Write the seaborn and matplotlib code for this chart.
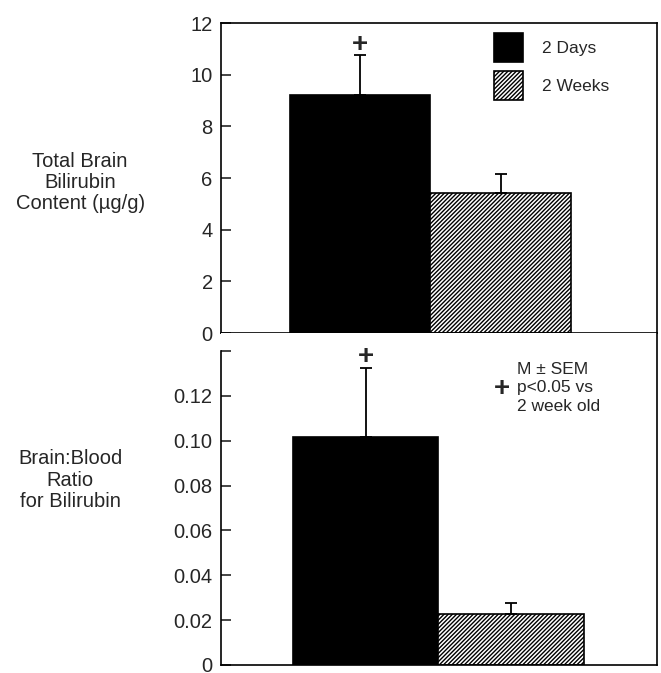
import matplotlib
matplotlib.use("Agg")
import matplotlib.pyplot as plt
import seaborn as sns

# Data
groups = ['2 Days', '2 Weeks']
content_mean = [9.23, 5.42]
content_sem = [1.54, 0.73]
ratio_mean = [0.1018, 0.0228]
ratio_sem = [0.0308, 0.0049]

content_ticks = [0, 2, 4, 6, 8, 10, 12]
ratio_ticks = [0, 0.02, 0.04, 0.06, 0.08, 0.10, 0.12, 0.14]
ratio_ticklabels = ['0', '0.02', '0.04', '0.06', '0.08', '0.10', '0.12', '']

sns.set_theme(style='white')
plt.rcParams['font.family'] = ['Liberation Sans', 'DejaVu Sans']
plt.rcParams['hatch.linewidth'] = 1.0
plt.rcParams['hatch.color'] = 'black'

fig = plt.figure(figsize=(6.61, 6.73), dpi=100)
ax1 = fig.add_axes([0.3343, 0.5052, 0.6596, 0.4606])
ax2 = fig.add_axes([0.3343, 0.0119, 0.6596, 0.4933])


def draw_bars(ax, means, sems):
    sns.barplot(x=groups, y=means, hue=groups, palette=['black', 'white'],
                width=1, legend=False, ax=ax, edgecolor='black', linewidth=1.2)
    ax.patches[1].set_hatch('////////')
    ax.errorbar([0, 1], means, yerr=[[0, 0], sems], fmt='none',
                ecolor='black', elinewidth=1.3, capsize=4, capthick=1.3)
    ax.set_xticks([])
    ax.set_xlabel('')
    ax.tick_params(axis='y', direction='in', length=7, width=1.2,
                   labelsize=14.5, left=True, pad=6)
    for s in ax.spines.values():
        s.set_linewidth(1.2)
        s.set_color('black')


# top panel: total brain bilirubin content
draw_bars(ax1, content_mean, content_sem)
ax1.set_ylim(0, 12)
ax1.set_xlim(-0.991, 2.112)
ax1.set_yticks(content_ticks)
ax1.set_yticklabels([str(t) for t in content_ticks])
ax1.text(0, content_mean[0] + content_sem[0] + 0.38, '+', ha='center', va='center',
         fontsize=20, fontweight='bold')
ax1.legend(handles=ax1.patches[:2], labels=groups, loc='upper left',
           bbox_to_anchor=(0.61, 0.99), frameon=False, fontsize=12.5,
           handlelength=1.65, handleheight=2.2, labelspacing=0.5,
           handletextpad=1.1, borderaxespad=0)
ax1.set_ylabel('Total Brain\nBilirubin\nContent (µg/g)', rotation=0,
               fontsize=14.5, ha='center', va='center', labelpad=0,
               linespacing=1.15)
ax1.yaxis.set_label_coords(-0.323, 0.485)

# bottom panel: brain:blood ratio
draw_bars(ax2, ratio_mean, ratio_sem)
ax2.set_ylim(0, 0.148)
ax2.set_xlim(-0.995, 2.002)
ax2.set_yticks(ratio_ticks)
ax2.set_yticklabels(ratio_ticklabels)
ax2.spines['top'].set_visible(False)
ax2.spines['left'].set_bounds(0, 0.14)
ax2.text(0, ratio_mean[0] + ratio_sem[0] + 0.0049, '+', ha='center', va='center',
         fontsize=20, fontweight='bold')
ax2.text(0.68, 0.913, 'M ± SEM\np<0.05 vs\n2 week old', transform=ax2.transAxes,
         ha='left', va='top', fontsize=12.5, linespacing=1.3)
ax2.text(0.645, 0.83, '+', transform=ax2.transAxes, ha='center', va='center',
         fontsize=20, fontweight='bold')
ax2.set_ylabel('Brain:Blood\nRatio\nfor Bilirubin', rotation=0,
               fontsize=14.5, ha='center', va='center', labelpad=0,
               linespacing=1.15)
ax2.yaxis.set_label_coords(-0.346, 0.557)

fig.savefig('out.png', dpi=100, facecolor='white')
